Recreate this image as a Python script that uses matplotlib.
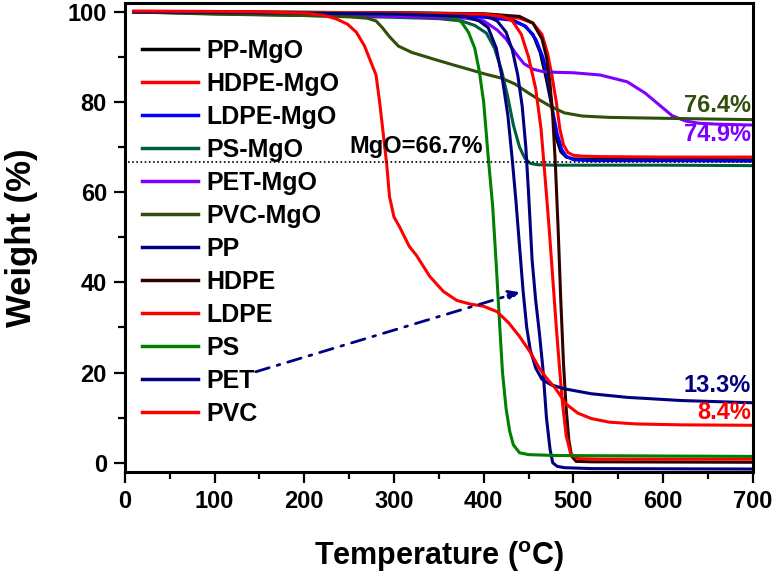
import matplotlib
matplotlib.use('Agg')
import matplotlib.pyplot as plt

plt.rcParams['font.family'] = ['Liberation Sans', 'DejaVu Sans']
plt.rcParams['font.weight'] = 'bold'

# TGA curves (temperature in C, weight in %)
pp_mgo_T = [10, 100, 200, 300, 400, 430, 445, 455, 463, 470, 476, 481, 486, 492, 500, 520, 600, 700]
pp_mgo_W = [100, 99.9, 99.7, 99.4, 99.0, 98.4, 97, 95, 91, 85, 79, 72, 69, 67.8, 67.4, 67.3, 67.3, 67.2]

hdpe_mgo_T = [10, 100, 200, 300, 400, 440, 455, 465, 471, 476, 481, 485, 489, 494, 500, 510, 530, 600, 700]
hdpe_mgo_W = [100, 100, 99.8, 99.6, 99.2, 98.6, 97.5, 95, 91, 86, 80, 74, 70.5, 68.8, 68.2, 68, 67.9, 67.8, 67.8]

ldpe_mgo_T = [10, 100, 200, 300, 400, 430, 447, 458, 466, 472, 477, 482, 487, 492, 500, 520, 600, 700]
ldpe_mgo_W = [100, 99.9, 99.6, 99.3, 98.8, 98.2, 96.8, 94, 90, 85, 78, 73, 69.5, 68, 67.2, 67, 67, 66.9]

ps_mgo_T = [10, 100, 200, 300, 350, 375, 390, 403, 412, 420, 427, 433, 440, 446, 452, 460, 480, 600, 700]
ps_mgo_W = [100, 99.6, 99.2, 98.8, 98.5, 98.0, 97, 95.3, 92, 87, 81, 75, 70, 67.5, 66.4, 66.1, 66, 66, 65.9]

pet_mgo_T = [10, 100, 200, 300, 380, 400, 415, 425, 435, 445, 455, 465, 480, 500, 530, 560, 580, 595, 610, 625, 640, 660, 700]
pet_mgo_W = [100, 99.7, 99.4, 99, 98.6, 98, 96, 94, 91, 88.5, 87.3, 86.8, 86.6, 86.5, 86, 84.5, 82, 79.5, 77, 75.8, 75.3, 75.1, 74.9]

pvc_mgo_T = [10, 100, 200, 250, 270, 280, 287, 295, 305, 320, 343, 365, 381, 400, 420, 435, 450, 462, 475, 490, 510, 540, 600, 700]
pvc_mgo_W = [100, 99.5, 99.2, 98.9, 98.6, 98, 96.5, 94.5, 92.4, 91, 89.6, 88.3, 87.4, 86.3, 85.3, 84, 82, 80.5, 79, 77.6, 76.9, 76.6, 76.4, 76.1]

pp_T = [10, 100, 200, 300, 380, 400, 415, 425, 432, 438, 443, 447, 450, 454, 458, 462, 466, 470, 474, 477, 482, 490, 520, 700]
pp_W = [100, 100, 99.9, 99.8, 99.6, 99.4, 98, 95.5, 91.5, 86, 79, 70, 60, 45, 36, 29, 21, 10, 3, 0, -0.8, -1.1, -1.3, -1.4]

hdpe_T = [10, 100, 200, 300, 400, 440, 455, 465, 470, 474, 477, 480, 483, 486, 489, 492, 495, 498, 503, 520, 700]
hdpe_W = [100, 100, 99.9, 99.8, 99.6, 99, 97.5, 94, 90, 84, 77, 66, 52, 36, 22, 12, 5, 1.5, 0.3, 0.2, 0.1]

ldpe_T = [10, 100, 200, 300, 400, 420, 432, 442, 450, 458, 464, 469, 473, 477, 481, 485, 488, 492, 497, 505, 530, 700]
ldpe_W = [100, 100, 99.9, 99.8, 99.5, 99, 98, 95, 90, 83, 74, 62, 52, 41, 30, 20, 13, 6, 2, 0.9, 0.8, 0.8]

ps_T = [10, 100, 200, 300, 350, 366, 375, 383, 390, 395, 400, 405, 410, 414, 418, 421, 425, 429, 433, 440, 450, 480, 700]
ps_W = [100, 99.9, 99.8, 99.5, 99.2, 98.8, 97.8, 95.5, 92, 87, 80, 68, 57, 44, 30, 20, 12, 7, 4, 2.2, 1.8, 1.6, 1.4]

pet_T = [10, 100, 200, 300, 380, 395, 405, 414, 421, 427, 432, 436, 440, 444, 448, 452, 458, 465, 475, 490, 520, 560, 620, 700]
pet_W = [100, 99.9, 99.7, 99.5, 99, 98, 96.5, 92, 85, 77, 67, 58, 48, 38, 30, 25, 21, 18.5, 17.3, 16.4, 15.3, 14.5, 13.8, 13.3]

pvc_T = [10, 100, 150, 200, 220, 235, 248, 258, 267, 274, 280, 284, 288, 292, 295, 300, 306, 317, 325, 340, 355, 370, 385, 400, 415, 428, 440, 452, 462, 470, 480, 492, 505, 520, 540, 570, 620, 700]
pvc_W = [100.2, 100.1, 100, 99.7, 99.3, 98.5, 97.3, 95.5, 92.5, 89, 86, 80, 73, 66, 59, 54.5, 52.4, 48, 46, 41.3, 38, 36, 35.2, 34.7, 33.5, 31, 28, 24.5, 21, 18.8, 16.5, 13, 11, 9.8, 9, 8.6, 8.4, 8.3]

series = [
    ('PP-MgO', pp_mgo_T, pp_mgo_W, '#000000'),
    ('HDPE-MgO', hdpe_mgo_T, hdpe_mgo_W, '#ff0000'),
    ('LDPE-MgO', ldpe_mgo_T, ldpe_mgo_W, '#0000ff'),
    ('PS-MgO', ps_mgo_T, ps_mgo_W, '#005e3c'),
    ('PET-MgO', pet_mgo_T, pet_mgo_W, '#7f00ff'),
    ('PVC-MgO', pvc_mgo_T, pvc_mgo_W, '#2f4f0a'),
    ('PP', pp_T, pp_W, '#000080'),
    ('HDPE', hdpe_T, hdpe_W, '#330000'),
    ('LDPE', ldpe_T, ldpe_W, '#ff0000'),
    ('PS', ps_T, ps_W, '#008000'),
    ('PET', pet_T, pet_W, '#000080'),
    ('PVC', pvc_T, pvc_W, '#ff0000'),
]

mgo_level = 66.7
residues = [('76.4%', 79.3, '#2f4f0a'), ('74.9%', 72.9, '#7f00ff'),
            ('13.3%', 17.2, '#000080'), ('8.4%', 11.1, '#ff0000')]

fig = plt.figure(figsize=(7.76, 5.76), dpi=100)
ax = fig.add_axes([0.161, 0.181, 0.809, 0.814])

for name, T, W, c in series:
    ax.plot(T, W, color=c, lw=2.2, label=name)

ax.axhline(mgo_level, xmin=0.005, color='black', lw=1.2, ls=(0, (1, 1.5)))
ax.text(325, 70.2, 'MgO=66.7%', fontsize=17, ha='center', va='center')

for txt, y, c in residues:
    ax.text(698, y, txt, color=c, fontsize=17, ha='right', va='center')

ax.annotate('', xy=(443, 38), xytext=(143, 20),
            arrowprops=dict(arrowstyle='-|>', color='#000080', lw=2,
                            ls=(0, (5, 3, 1, 3)), mutation_scale=16))

ax.set_xlim(0, 700)
ax.set_ylim(-2, 102)
ax.set_xticks(range(0, 701, 100))
ax.set_xticks(range(50, 700, 100), minor=True)
ax.set_yticks(range(0, 101, 20))
ax.set_yticks(range(10, 100, 20), minor=True)
ax.tick_params(which='major', direction='out', length=8, width=1.6, labelsize=17, pad=5)
ax.tick_params(which='minor', direction='out', length=5, width=1.6)
for s in ax.spines.values():
    s.set_linewidth(2.2)

ax.set_xlabel('Temperature ($\\mathregular{^oC}$)', fontsize=22, fontweight='bold', labelpad=19)
ax.set_ylabel('Weight (%)', fontsize=25, fontweight='bold', labelpad=21)

leg = ax.legend(loc='upper left', frameon=False, fontsize=18, handlelength=2.24,
                handletextpad=0.32, labelspacing=0.36, borderaxespad=0.3,
                bbox_to_anchor=(0.0, 0.96))
for line in leg.get_lines():
    line.set_linewidth(2.5)

fig.savefig('out.png', dpi=100)
